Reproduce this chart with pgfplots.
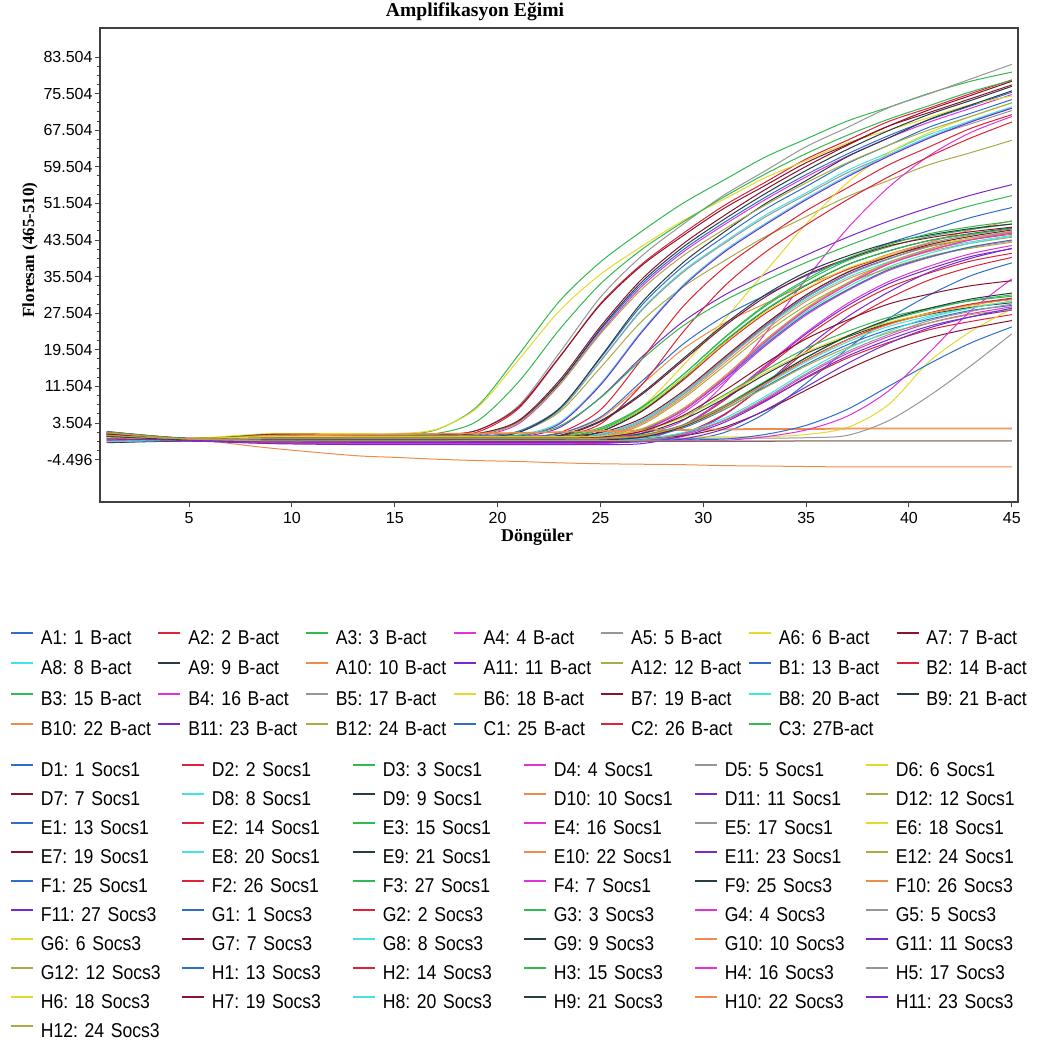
\documentclass[border=0pt]{standalone}
\usepackage{pgfplots}
\pgfplotsset{compat=1.18}
\usepackage{pgfplotstable}
\usepackage{fontspec}
\setmainfont{Liberation Serif}
\newfontfamily\tickfont{Liberation Sans}
\newfontfamily\legfont{Liberation Sans}[FakeStretch=0.88]

\definecolor{c1}{RGB}{45,110,205}
\definecolor{c2}{RGB}{220,35,55}
\definecolor{c3}{RGB}{50,185,80}
\definecolor{c4}{RGB}{225,50,220}
\definecolor{c5}{RGB}{150,150,150}
\definecolor{c6}{RGB}{228,218,45}
\definecolor{c7}{RGB}{135,20,45}
\definecolor{c8}{RGB}{70,225,225}
\definecolor{c9}{RGB}{40,60,70}
\definecolor{c10}{RGB}{240,140,75}
\definecolor{c11}{RGB}{120,40,205}
\definecolor{c12}{RGB}{170,170,70}

% one row per well, one column per cycle
\pgfplotstableread{
name 1 5 9 13 15 17 19 21 23 25 27 29 31 33 35 37 39 41 43 45
A1 1.2 -0.1 0.9 0.8 0.8 0.8 1.1 3.8 12.3 23.8 33.8 41.3 47.3 52.8 57.8 62.3 66.3 69.8 72.8 75.8
A2 0.4 -0.2 0.6 0.5 0.5 0.5 1.5 6.6 17.8 29.6 38.2 44.9 51.0 56.1 61.2 65.3 69.4 72.4 75.5 78.5
A3 1.5 0.1 1.1 1.0 1.0 2.0 7.1 18.3 30.1 38.7 45.4 51.5 56.6 61.6 65.6 69.5 72.5 75.6 78.2 80.2
A4 0.8 -0.3 0.4 0.3 0.3 0.3 0.6 3.3 11.8 23.3 33.3 40.8 46.8 52.3 57.3 61.8 65.8 69.3 72.3 75.3
A5 1.6 0.0 0.9 0.8 0.8 0.8 1.9 7.2 18.8 31.0 40.0 46.9 53.3 58.6 63.9 68.1 72.4 75.5 78.7 81.9
A6 1.0 0.2 1.2 1.2 1.2 2.1 6.8 17.2 28.0 36.0 42.1 47.7 52.4 57.1 60.9 64.7 67.5 70.3 73.1 75.0
A7 1.4 -0.1 1.0 0.9 0.9 0.9 1.9 6.9 17.9 29.4 37.9 44.4 50.4 55.4 60.4 64.4 68.4 71.4 74.4 77.4
A8 0.2 -0.2 0.5 0.4 0.4 0.4 0.4 1.4 6.3 17.1 28.3 36.7 43.0 48.9 53.8 58.7 62.6 66.6 69.5 72.4
A9 0.9 -0.2 0.7 0.6 0.6 0.6 0.9 3.7 12.3 24.1 34.3 41.9 48.0 53.6 58.7 63.3 67.4 71.0 74.0 77.1
A10 -0.3 -0.3 0.4 0.5 0.5 0.5 0.5 0.5 1.2 4.5 11.9 19.6 25.3 29.6 33.7 37.0 40.4 43.0 45.7 47.7
A11 1.1 -0.4 0.2 0.2 0.2 0.2 0.2 0.4 2.5 9.1 17.9 25.6 31.4 36.0 40.2 44.1 47.6 50.6 53.3 55.6
A12 0.6 0.1 0.7 0.6 0.6 0.6 0.6 1.5 5.9 15.6 25.7 33.2 38.9 44.2 48.6 53.0 56.5 60.0 62.6 65.3
B1 0.3 -0.1 0.8 0.7 0.7 0.7 0.7 1.7 6.7 17.7 29.2 37.7 44.2 50.2 55.2 60.2 64.2 68.2 71.2 74.2
B2 1.3 -0.2 0.5 0.4 0.4 0.4 0.4 0.4 1.4 6.4 17.4 28.9 37.4 43.9 49.9 54.9 59.9 63.9 67.9 70.9
B3 1.0 0.0 1.0 0.9 0.9 1.2 3.9 12.4 23.9 33.9 41.4 47.4 52.9 57.9 62.4 66.4 69.9 72.9 75.9 78.4
B4 0.1 -0.3 0.5 0.5 0.5 0.5 0.5 0.5 0.5 0.5 1.2 4.0 12.0 23.0 35.0 46.0 55.0 62.0 67.0 70.5
B5 1.7 0.1 0.6 0.5 0.5 0.5 0.5 1.5 6.3 17.0 28.1 36.4 42.7 48.5 53.4 58.2 62.1 66.0 68.9 71.8
B6 -0.2 0.0 0.7 0.6 0.6 0.6 0.6 0.6 0.8 2.0 7.0 16.0 26.0 36.5 47.0 56.0 62.5 67.0 70.5 73.5
B7 1.2 -0.2 1.0 0.9 0.9 0.9 1.2 4.0 12.8 24.6 34.9 42.6 48.8 54.5 59.6 64.2 68.4 72.0 75.1 78.2
B8 0.5 -0.1 0.6 0.6 0.6 0.6 0.6 0.9 3.6 12.1 23.6 33.6 41.1 47.1 52.6 57.6 62.1 66.1 69.6 72.6
B9 -0.6 -0.3 0.3 0.4 0.4 0.4 0.4 1.4 6.6 17.9 29.8 38.5 45.2 51.4 56.5 61.7 65.8 69.9 73.0 76.1
B10 1.0 0.0 -2.0 -3.6 -4.0 -4.4 -4.7 -4.9 -5.2 -5.4 -5.5 -5.6 -5.8 -5.9 -6.0 -6.1 -6.1 -6.1 -6.1 -6.1
B11 0.7 -0.2 0.3 0.3 0.3 0.3 0.3 0.6 3.3 11.8 23.3 33.3 40.8 46.8 52.3 57.3 61.8 65.8 69.3 72.3
B12 1.4 0.1 0.8 0.7 0.7 0.7 1.0 3.6 11.9 23.0 32.7 40.0 45.8 51.1 56.0 60.4 64.2 67.6 70.5 73.5
C1 -0.4 -0.2 0.5 0.5 0.5 0.5 0.5 0.5 1.2 4.8 12.6 20.7 26.8 31.4 35.7 39.2 42.8 45.6 48.4 50.6
C2 0.9 -0.3 0.2 0.3 0.3 0.3 0.3 0.3 0.6 3.3 11.8 23.3 33.3 40.8 46.8 52.3 57.3 61.8 65.8 69.3
C3 0.3 0.0 0.7 0.6 0.6 0.6 0.6 0.8 2.8 9.0 17.4 24.7 30.2 34.6 38.6 42.2 45.5 48.4 51.0 53.2
}\rawB
\pgfplotstabletranspose[colnames from=name]{\tB}{\rawB}

\pgfplotstableread{
name 1 5 9 13 15 17 19 21 23 25 27 29 31 33 35 37 39 41 43 45
D1 0.9 -0.1 0.3 0.2 0.2 0.2 0.2 0.2 0.2 1.0 4.1 10.0 17.4 24.7 31.1 36.0 39.4 42.1 43.9 45.3
D2 -0.5 -0.3 -0.2 -0.3 -0.3 -0.3 -0.3 -0.3 -0.1 1.6 6.0 12.8 20.6 27.4 32.7 37.1 40.0 42.2 43.6 44.8
D3 1.3 0.0 0.6 0.5 0.5 0.5 0.5 0.5 0.7 2.5 7.0 14.0 22.0 29.0 34.5 39.0 42.0 44.3 45.8 47.0
D4 0.2 -0.2 -0.5 -0.6 -0.6 -0.6 -0.6 -0.6 -0.6 -0.4 1.3 5.7 12.5 20.3 27.1 32.4 36.8 39.7 41.9 43.3
D5 1.1 -0.1 0.0 0.0 0.0 0.0 0.0 0.0 0.0 0.8 4.0 10.0 17.5 25.0 31.5 36.5 40.0 42.8 44.6 46.0
D6 -0.3 0.1 0.4 0.4 0.4 0.4 0.4 0.4 0.4 0.6 2.3 6.6 13.2 20.8 27.5 32.7 37.0 39.8 42.0 43.4
D7 0.6 -0.3 -0.1 -0.2 -0.2 -0.2 -0.2 -0.2 0.6 3.8 9.7 17.1 24.6 31.0 35.9 39.4 42.2 44.0 45.3 46.3
D8 1.5 0.0 0.4 0.3 0.3 0.3 0.3 0.3 0.3 1.1 4.1 9.9 17.1 24.3 30.5 35.3 38.7 41.4 43.1 44.5
D9 -0.8 -0.4 -0.4 -0.4 -0.4 -0.4 -0.4 -0.4 -0.2 1.6 6.1 13.1 21.1 28.1 33.6 38.1 41.1 43.4 44.9 46.1
D10 0.4 -0.2 -0.3 -0.5 -0.5 -0.5 -0.5 -0.5 -0.5 0.3 3.4 9.2 16.5 23.8 30.1 34.9 38.3 41.0 42.8 44.1
D11 -0.1 -0.3 -0.7 -0.8 -0.8 -0.8 -0.8 -0.8 -0.8 -0.8 0.0 3.0 8.7 15.8 23.0 29.1 33.9 37.2 39.9 41.6
D12 0.7 0.1 0.2 0.1 0.1 0.1 0.1 0.1 0.1 0.3 2.1 6.6 13.6 21.6 28.6 34.1 38.6 41.6 43.9 45.4
E1 1.0 -0.2 -0.4 -0.5 -0.5 -0.5 -0.5 -0.5 -0.5 -0.5 -0.5 -0.3 1.4 5.6 12.2 19.7 26.3 31.5 35.7 38.5
E2 -0.6 -0.4 -0.8 -0.9 -0.9 -0.9 -0.9 -0.9 -0.9 -0.9 -0.2 2.8 8.4 15.4 22.4 28.4 33.1 36.3 38.9 40.6
E3 0.5 -0.1 0.1 0.0 0.0 0.0 0.0 0.0 0.2 2.0 6.4 13.4 21.3 28.2 33.7 38.1 41.1 43.4 44.8 46.0
E4 0.0 -0.3 -0.9 -1.0 -1.0 -1.0 -1.0 -1.0 -1.0 -1.0 -0.2 2.9 8.7 16.0 23.3 29.6 34.4 37.8 40.5 42.3
E5 1.2 0.0 -0.2 -0.3 -0.3 -0.3 -0.3 -0.3 -0.3 0.5 3.7 9.6 17.0 24.5 30.9 35.8 39.3 42.1 43.9 45.2
E6 -0.4 0.0 0.3 0.3 0.3 0.3 0.3 0.3 0.5 2.2 6.5 13.3 20.9 27.7 32.9 37.3 40.1 42.4 43.8 44.9
E7 1.6 0.2 0.7 0.6 0.6 0.6 0.6 0.6 0.6 1.4 4.5 10.4 17.8 25.1 31.5 36.4 39.8 42.5 44.3 45.7
E8 0.3 -0.2 0.0 -0.1 -0.1 -0.1 -0.1 -0.1 -0.1 0.1 1.9 6.3 13.1 21.0 27.8 33.2 37.6 40.6 42.8 44.3
E9 -0.7 -0.3 0.0 0.0 0.0 0.0 0.0 0.0 0.8 4.0 10.0 17.5 25.0 31.5 36.5 40.0 42.8 44.6 46.0 47.0
E10 0.8 0.0 0.3 0.2 0.2 0.2 0.2 0.2 0.2 0.4 2.2 6.6 13.6 21.5 28.4 33.9 38.3 41.3 43.6 45.1
E11 0.1 -0.4 -1.0 -1.2 -1.2 -1.2 -1.2 -1.2 -1.2 -1.2 -1.0 0.8 5.2 12.0 19.9 26.7 32.1 36.5 39.5 41.7
E12 1.1 -0.2 -0.6 -0.7 -0.7 -0.7 -0.7 -0.7 -0.7 0.1 3.1 8.8 15.9 23.1 29.2 34.0 37.3 40.0 41.7 43.0
F1 -0.2 -0.1 0.0 0.0 0.0 0.0 0.0 0.0 0.0 0.2 1.9 6.2 13.0 20.6 27.4 32.6 37.0 39.8 42.0 43.5
F2 0.6 -0.3 -0.5 -0.6 -0.6 -0.6 -0.6 -0.6 -0.6 -0.6 -0.4 1.2 5.4 11.8 19.2 25.6 30.7 34.8 37.6 39.7
F3 1.4 0.1 0.3 0.2 0.2 0.2 0.2 0.2 0.4 2.2 6.8 14.0 22.1 29.3 34.9 39.5 42.5 44.9 46.4 47.6
F4 -0.5 -0.2 -0.3 -0.3 -0.3 -0.3 -0.3 -0.3 -0.3 -0.1 1.7 6.2 13.2 21.2 28.2 33.7 38.2 41.2 43.5 45.0
}\rawS
\pgfplotstabletranspose[colnames from=name]{\tS}{\rawS}

\pgfplotstableread{
name 1 5 9 13 15 17 19 21 23 25 27 29 31 33 35 37 39 41 43 45
F9 0.7 0.0 0.3 0.3 0.3 0.3 0.3 0.3 0.3 0.3 0.8 3.0 7.1 12.2 17.3 21.7 25.1 27.5 29.4 30.6
F10 1.0 0.0 0.6 0.9 1.0 1.1 1.2 1.3 1.5 1.7 1.8 1.9 2.0 2.1 2.1 2.2 2.2 2.2 2.2 2.2
F11 0.2 -0.3 -0.5 -0.5 -0.6 -0.6 -0.6 -0.6 -0.6 -0.5 -0.5 -0.5 -0.5 -0.5 -0.4 -0.4 -0.4 -0.4 -0.4 -0.4
G1 1.2 -0.1 -0.1 -0.2 -0.2 -0.2 -0.2 -0.2 -0.2 -0.2 0.3 2.4 6.4 11.4 16.3 20.6 23.9 26.2 28.1 29.2
G2 -0.3 -0.2 0.0 0.0 0.0 0.0 0.0 0.0 0.0 0.0 0.1 1.2 4.0 8.4 13.3 17.7 21.1 23.9 25.7 27.2
G3 0.9 0.1 0.4 0.4 0.4 0.4 0.4 0.4 0.4 0.5 1.8 4.8 9.6 15.0 19.8 23.5 26.6 28.6 30.2 31.2
G4 0.4 -0.3 -0.3 -0.4 -0.4 -0.4 -0.4 -0.4 -0.4 -0.4 -0.3 0.9 4.0 8.6 14.0 18.7 22.4 25.4 27.4 28.9
G5 1.3 0.0 0.2 0.2 0.2 0.2 0.2 0.2 0.2 0.2 0.2 0.2 0.2 0.2 0.3 0.8 4.0 9.5 16.0 23.0
G6 0.0 0.1 0.5 0.5 0.5 0.5 0.5 0.5 0.5 0.5 0.5 0.5 0.5 0.5 1.0 2.5 7.5 17.0 23.5 28.5
G7 1.5 -0.1 0.3 0.2 0.2 0.2 0.2 0.2 0.2 0.2 0.2 0.7 2.6 6.2 10.7 15.2 19.1 22.1 24.2 25.9
G8 -0.6 -0.2 0.1 0.1 0.1 0.1 0.1 0.1 0.1 0.1 0.6 2.8 6.8 11.8 16.9 21.2 24.6 26.9 28.8 30.0
G9 0.5 -0.2 -0.1 -0.1 -0.1 -0.1 -0.1 -0.1 -0.1 0.0 1.2 4.2 8.8 14.1 18.7 22.3 25.3 27.3 28.8 29.8
G10 0.6 -0.1 0.8 1.0 1.1 1.2 1.3 1.4 1.6 1.8 2.0 2.1 2.2 2.3 2.3 2.4 2.4 2.4 2.4 2.4
G11 0.8 -0.3 -0.6 -0.7 -0.7 -0.7 -0.7 -0.7 -0.7 -0.7 -0.6 0.6 3.6 8.2 13.5 18.1 21.7 24.7 26.7 28.2
G12 -0.1 0.0 0.2 0.2 0.2 0.2 0.2 0.2 0.2 0.2 0.7 2.7 6.5 11.2 16.0 20.0 23.2 25.4 27.2 28.3
H1 1.0 -0.1 0.0 0.0 0.0 0.0 0.0 0.0 0.0 0.0 0.0 0.0 0.0 1.0 3.0 6.5 11.5 16.5 21.0 24.5
H2 0.2 -0.2 0.0 0.0 0.0 0.0 0.0 0.0 0.0 0.0 0.6 2.8 6.9 12.1 17.3 21.7 25.2 27.6 29.5 30.8
H3 1.6 0.1 0.3 0.3 0.3 0.3 0.3 0.3 0.3 0.3 0.9 3.1 7.3 12.6 17.8 22.4 25.9 28.3 30.3 31.5
H4 -0.4 -0.3 -0.3 -0.3 -0.3 -0.3 -0.3 -0.3 -0.3 -0.3 -0.3 -0.3 -0.3 0.5 2.0 5.0 10.5 19.0 28.0 35.0
H5 0.9 -0.2 -0.2 -0.3 -0.3 -0.3 -0.3 -0.3 -0.3 -0.3 -0.2 1.1 4.1 8.9 14.3 19.1 22.8 25.9 27.9 29.5
H6 0.3 0.1 0.5 0.5 0.5 0.5 0.5 0.5 0.5 0.6 1.8 4.7 9.3 14.5 19.0 22.6 25.5 27.5 29.0 30.0
H7 1.1 0.0 0.2 0.2 0.2 0.2 0.2 0.2 0.2 0.4 1.7 5.1 10.5 16.5 21.9 26.0 29.5 31.7 33.5 34.6
H8 -0.5 -0.2 0.0 0.0 0.0 0.0 0.0 0.0 0.0 0.0 0.1 1.4 4.5 9.3 14.8 19.7 23.5 26.6 28.6 30.2
H9 0.6 -0.2 -0.2 -0.2 -0.2 -0.2 -0.2 -0.2 -0.2 -0.2 0.4 2.7 7.0 12.4 17.8 22.5 26.1 28.6 30.6 31.9
H10 1.4 0.0 0.2 0.2 0.2 0.2 0.2 0.2 0.2 0.2 0.7 2.9 7.0 12.1 17.2 21.6 25.0 27.4 29.3 30.5
H11 0.0 -0.3 -0.4 -0.5 -0.5 -0.5 -0.5 -0.5 -0.5 -0.5 -0.5 0.0 2.2 6.3 11.4 16.5 20.9 24.3 26.7 28.6
H12 0.8 0.0 -0.4 -0.4 -0.4 -0.4 -0.3 -0.3 -0.3 -0.3 -0.4 -0.4 -0.4 -0.4 -0.4 -0.4 -0.4 -0.4 -0.4 -0.4
}\rawT
\pgfplotstabletranspose[colnames from=name]{\tT}{\rawT}

\pgfplotsset{
  legbox/.style={
    hide axis, scale only axis, width=459pt, height=237pt,
    at={(0,0)}, anchor=south west,
    xmin=0, xmax=1, ymin=0, ymax=1,
    legend cell align=left,
    legend image code/.code={\draw[line width=0.9pt,##1] (0pt,2.9pt) -- (11pt,2.9pt);},
  },
}

\begin{document}
\frenchspacing
\begin{tikzpicture}
\useasboundingbox (-50pt,-269.5pt) rectangle (474pt,251pt);

\begin{axis}[
  at={(0,0)}, anchor=south west,
  scale only axis, width=459pt, height=237pt,
  xmin=0.67, xmax=45.3, ymin=-13.76, ymax=89.84,
  xtick={5,10,...,45},
  xticklabels={5,10,15,20,25,30,35,40,45},
  ytick={-4.496,3.504,11.504,19.504,27.504,35.504,43.504,51.504,59.504,67.504,75.504,83.504},
  yticklabels={-4.496,3.504,11.504,19.504,27.504,35.504,43.504,51.504,59.504,67.504,75.504,83.504},
  minor y tick num=3,
  tick align=outside, tick pos=left,
  major tick length=2.5pt, minor tick length=1.5pt,
  axis line style={draw=black!75, line width=0.8pt},
  tick style={draw=black!75, line width=0.5pt},
  ticklabel style={font=\tickfont\fontsize{8pt}{9.6pt}\selectfont},
  yticklabel style={xshift=2.3pt},
  xticklabel style={yshift=1pt},
  every axis plot/.append style={line width=0.5pt, smooth},
]
% B-act
\addplot[c1] table[x=colnames,y=A1]{\tB};
\addplot[c2] table[x=colnames,y=A2]{\tB};
\addplot[c3] table[x=colnames,y=A3]{\tB};
\addplot[c4] table[x=colnames,y=A4]{\tB};
\addplot[c5] table[x=colnames,y=A5]{\tB};
\addplot[c6] table[x=colnames,y=A6]{\tB};
\addplot[c7] table[x=colnames,y=A7]{\tB};
\addplot[c8] table[x=colnames,y=A8]{\tB};
\addplot[c9] table[x=colnames,y=A9]{\tB};
\addplot[c10] table[x=colnames,y=A10]{\tB};
\addplot[c11] table[x=colnames,y=A11]{\tB};
\addplot[c12] table[x=colnames,y=A12]{\tB};
\addplot[c1] table[x=colnames,y=B1]{\tB};
\addplot[c2] table[x=colnames,y=B2]{\tB};
\addplot[c3] table[x=colnames,y=B3]{\tB};
\addplot[c4] table[x=colnames,y=B4]{\tB};
\addplot[c5] table[x=colnames,y=B5]{\tB};
\addplot[c6] table[x=colnames,y=B6]{\tB};
\addplot[c7] table[x=colnames,y=B7]{\tB};
\addplot[c8] table[x=colnames,y=B8]{\tB};
\addplot[c9] table[x=colnames,y=B9]{\tB};
\addplot[c10] table[x=colnames,y=B10]{\tB};
\addplot[c11] table[x=colnames,y=B11]{\tB};
\addplot[c12] table[x=colnames,y=B12]{\tB};
\addplot[c1] table[x=colnames,y=C1]{\tB};
\addplot[c2] table[x=colnames,y=C2]{\tB};
\addplot[c3] table[x=colnames,y=C3]{\tB};
% Socs1
\addplot[c1] table[x=colnames,y=D1]{\tS};
\addplot[c2] table[x=colnames,y=D2]{\tS};
\addplot[c3] table[x=colnames,y=D3]{\tS};
\addplot[c4] table[x=colnames,y=D4]{\tS};
\addplot[c5] table[x=colnames,y=D5]{\tS};
\addplot[c6] table[x=colnames,y=D6]{\tS};
\addplot[c7] table[x=colnames,y=D7]{\tS};
\addplot[c8] table[x=colnames,y=D8]{\tS};
\addplot[c9] table[x=colnames,y=D9]{\tS};
\addplot[c10] table[x=colnames,y=D10]{\tS};
\addplot[c11] table[x=colnames,y=D11]{\tS};
\addplot[c12] table[x=colnames,y=D12]{\tS};
\addplot[c1] table[x=colnames,y=E1]{\tS};
\addplot[c2] table[x=colnames,y=E2]{\tS};
\addplot[c3] table[x=colnames,y=E3]{\tS};
\addplot[c4] table[x=colnames,y=E4]{\tS};
\addplot[c5] table[x=colnames,y=E5]{\tS};
\addplot[c6] table[x=colnames,y=E6]{\tS};
\addplot[c7] table[x=colnames,y=E7]{\tS};
\addplot[c8] table[x=colnames,y=E8]{\tS};
\addplot[c9] table[x=colnames,y=E9]{\tS};
\addplot[c10] table[x=colnames,y=E10]{\tS};
\addplot[c11] table[x=colnames,y=E11]{\tS};
\addplot[c12] table[x=colnames,y=E12]{\tS};
\addplot[c1] table[x=colnames,y=F1]{\tS};
\addplot[c2] table[x=colnames,y=F2]{\tS};
\addplot[c3] table[x=colnames,y=F3]{\tS};
\addplot[c4] table[x=colnames,y=F4]{\tS};
% Socs3
\addplot[c9] table[x=colnames,y=F9]{\tT};
\addplot[c10] table[x=colnames,y=F10]{\tT};
\addplot[c11] table[x=colnames,y=F11]{\tT};
\addplot[c1] table[x=colnames,y=G1]{\tT};
\addplot[c2] table[x=colnames,y=G2]{\tT};
\addplot[c3] table[x=colnames,y=G3]{\tT};
\addplot[c4] table[x=colnames,y=G4]{\tT};
\addplot[c5] table[x=colnames,y=G5]{\tT};
\addplot[c6] table[x=colnames,y=G6]{\tT};
\addplot[c7] table[x=colnames,y=G7]{\tT};
\addplot[c8] table[x=colnames,y=G8]{\tT};
\addplot[c9] table[x=colnames,y=G9]{\tT};
\addplot[c10] table[x=colnames,y=G10]{\tT};
\addplot[c11] table[x=colnames,y=G11]{\tT};
\addplot[c12] table[x=colnames,y=G12]{\tT};
\addplot[c1] table[x=colnames,y=H1]{\tT};
\addplot[c2] table[x=colnames,y=H2]{\tT};
\addplot[c3] table[x=colnames,y=H3]{\tT};
\addplot[c4] table[x=colnames,y=H4]{\tT};
\addplot[c5] table[x=colnames,y=H5]{\tT};
\addplot[c6] table[x=colnames,y=H6]{\tT};
\addplot[c7] table[x=colnames,y=H7]{\tT};
\addplot[c8] table[x=colnames,y=H8]{\tT};
\addplot[c9] table[x=colnames,y=H9]{\tT};
\addplot[c10] table[x=colnames,y=H10]{\tT};
\addplot[c11] table[x=colnames,y=H11]{\tT};
\addplot[c12] table[x=colnames,y=H12]{\tT};
\end{axis}

% B-act legend
\begin{axis}[legbox,
  legend columns=7,
  legend style={at={(-0.09804,-0.26793)}, anchor=north west, draw=none, fill=none,
    inner sep=0pt, outer sep=0pt, row sep=5.75pt,
    nodes={inner sep=0pt, text width=58.4pt, align=left, text height=7.5pt, text depth=2pt,
      font=\legfont\fontsize{10pt}{12pt}\selectfont},
    /tikz/every odd column/.append style={column sep=3.5pt}},
]
\addlegendimage{c1}\addlegendentry{A1: 1 B-act}
\addlegendimage{c2}\addlegendentry{A2: 2 B-act}
\addlegendimage{c3}\addlegendentry{A3: 3 B-act}
\addlegendimage{c4}\addlegendentry{A4: 4 B-act}
\addlegendimage{c5}\addlegendentry{A5: 5 B-act}
\addlegendimage{c6}\addlegendentry{A6: 6 B-act}
\addlegendimage{c7}\addlegendentry{A7: 7 B-act}
\addlegendimage{c8}\addlegendentry{A8: 8 B-act}
\addlegendimage{c9}\addlegendentry{A9: 9 B-act}
\addlegendimage{c10}\addlegendentry{A10: 10 B-act}
\addlegendimage{c11}\addlegendentry{A11: 11 B-act}
\addlegendimage{c12}\addlegendentry{A12: 12 B-act}
\addlegendimage{c1}\addlegendentry{B1: 13 B-act}
\addlegendimage{c2}\addlegendentry{B2: 14 B-act}
\addlegendimage{c3}\addlegendentry{B3: 15 B-act}
\addlegendimage{c4}\addlegendentry{B4: 16 B-act}
\addlegendimage{c5}\addlegendentry{B5: 17 B-act}
\addlegendimage{c6}\addlegendentry{B6: 18 B-act}
\addlegendimage{c7}\addlegendentry{B7: 19 B-act}
\addlegendimage{c8}\addlegendentry{B8: 20 B-act}
\addlegendimage{c9}\addlegendentry{B9: 21 B-act}
\addlegendimage{c10}\addlegendentry{B10: 22 B-act}
\addlegendimage{c11}\addlegendentry{B11: 23 B-act}
\addlegendimage{c12}\addlegendentry{B12: 24 B-act}
\addlegendimage{c1}\addlegendentry{C1: 25 B-act}
\addlegendimage{c2}\addlegendentry{C2: 26 B-act}
\addlegendimage{c3}\addlegendentry{C3: 27B-act}
\end{axis}

% Socs legend
\begin{axis}[legbox,
  legend columns=6,
  legend style={at={(-0.09804,-0.54641)}, anchor=north west, draw=none, fill=none,
    inner sep=0pt, outer sep=0pt, row sep=5pt,
    nodes={inner sep=0pt, text width=70.1pt, align=left, text height=7.5pt, text depth=2pt,
      font=\legfont\fontsize{10pt}{12pt}\selectfont},
    /tikz/every odd column/.append style={column sep=3.5pt}},
]
\addlegendimage{c1}\addlegendentry{D1: 1 Socs1}
\addlegendimage{c2}\addlegendentry{D2: 2 Socs1}
\addlegendimage{c3}\addlegendentry{D3: 3 Socs1}
\addlegendimage{c4}\addlegendentry{D4: 4 Socs1}
\addlegendimage{c5}\addlegendentry{D5: 5 Socs1}
\addlegendimage{c6}\addlegendentry{D6: 6 Socs1}
\addlegendimage{c7}\addlegendentry{D7: 7 Socs1}
\addlegendimage{c8}\addlegendentry{D8: 8 Socs1}
\addlegendimage{c9}\addlegendentry{D9: 9 Socs1}
\addlegendimage{c10}\addlegendentry{D10: 10 Socs1}
\addlegendimage{c11}\addlegendentry{D11: 11 Socs1}
\addlegendimage{c12}\addlegendentry{D12: 12 Socs1}
\addlegendimage{c1}\addlegendentry{E1: 13 Socs1}
\addlegendimage{c2}\addlegendentry{E2: 14 Socs1}
\addlegendimage{c3}\addlegendentry{E3: 15 Socs1}
\addlegendimage{c4}\addlegendentry{E4: 16 Socs1}
\addlegendimage{c5}\addlegendentry{E5: 17 Socs1}
\addlegendimage{c6}\addlegendentry{E6: 18 Socs1}
\addlegendimage{c7}\addlegendentry{E7: 19 Socs1}
\addlegendimage{c8}\addlegendentry{E8: 20 Socs1}
\addlegendimage{c9}\addlegendentry{E9: 21 Socs1}
\addlegendimage{c10}\addlegendentry{E10: 22 Socs1}
\addlegendimage{c11}\addlegendentry{E11: 23 Socs1}
\addlegendimage{c12}\addlegendentry{E12: 24 Socs1}
\addlegendimage{c1}\addlegendentry{F1: 25 Socs1}
\addlegendimage{c2}\addlegendentry{F2: 26 Socs1}
\addlegendimage{c3}\addlegendentry{F3: 27 Socs1}
\addlegendimage{c4}\addlegendentry{F4: 7 Socs1}
\addlegendimage{c9}\addlegendentry{F9: 25 Socs3}
\addlegendimage{c10}\addlegendentry{F10: 26 Socs3}
\addlegendimage{c11}\addlegendentry{F11: 27 Socs3}
\addlegendimage{c1}\addlegendentry{G1: 1 Socs3}
\addlegendimage{c2}\addlegendentry{G2: 2 Socs3}
\addlegendimage{c3}\addlegendentry{G3: 3 Socs3}
\addlegendimage{c4}\addlegendentry{G4: 4 Socs3}
\addlegendimage{c5}\addlegendentry{G5: 5 Socs3}
\addlegendimage{c6}\addlegendentry{G6: 6 Socs3}
\addlegendimage{c7}\addlegendentry{G7: 7 Socs3}
\addlegendimage{c8}\addlegendentry{G8: 8 Socs3}
\addlegendimage{c9}\addlegendentry{G9: 9 Socs3}
\addlegendimage{c10}\addlegendentry{G10: 10 Socs3}
\addlegendimage{c11}\addlegendentry{G11: 11 Socs3}
\addlegendimage{c12}\addlegendentry{G12: 12 Socs3}
\addlegendimage{c1}\addlegendentry{H1: 13 Socs3}
\addlegendimage{c2}\addlegendentry{H2: 14 Socs3}
\addlegendimage{c3}\addlegendentry{H3: 15 Socs3}
\addlegendimage{c4}\addlegendentry{H4: 16 Socs3}
\addlegendimage{c5}\addlegendentry{H5: 17 Socs3}
\addlegendimage{c6}\addlegendentry{H6: 18 Socs3}
\addlegendimage{c7}\addlegendentry{H7: 19 Socs3}
\addlegendimage{c8}\addlegendentry{H8: 20 Socs3}
\addlegendimage{c9}\addlegendentry{H9: 21 Socs3}
\addlegendimage{c10}\addlegendentry{H10: 22 Socs3}
\addlegendimage{c11}\addlegendentry{H11: 23 Socs3}
\addlegendimage{c12}\addlegendentry{H12: 24 Socs3}
\end{axis}

\node[font=\bfseries\fontsize{9.8pt}{12pt}\selectfont] at (187.5pt,245pt) {Amplifikasyon Eğimi};
\node[font=\bfseries\fontsize{8.5pt}{10pt}\selectfont, rotate=90] at (-35pt,126pt) {Floresan (465-510)};
\node[font=\bfseries\fontsize{9pt}{11pt}\selectfont] at (218.5pt,-17.5pt) {Döngüler};
\end{tikzpicture}
\end{document}
